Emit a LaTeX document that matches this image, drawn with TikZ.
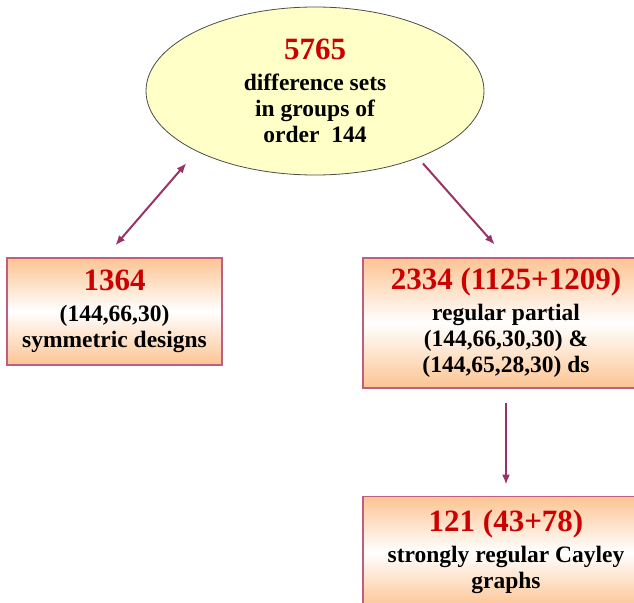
\documentclass[tikz,border=0pt]{standalone}
\usepackage{fontspec}
\setmainfont{Liberation Serif}
\usetikzlibrary{%
  shapes.geometric,%
  positioning,%
  arrows.meta%
}
\definecolor{numred}{RGB}{204,0,0}
\definecolor{linkcol}{RGB}{153,51,102}
\definecolor{boxedge}{RGB}{190,95,130}
\definecolor{peach}{RGB}{252,196,146}
\definecolor{lemon}{RGB}{255,255,200}
\newcommand{\bignum}[1]{{\fontsize{31}{34}\selectfont\color{numred}#1}}

\begin{document}
\begin{tikzpicture}[
      x=1pt, y=-1pt,
      every text node part/.style={align=center},
      textfont/.style={font=\bfseries\fontsize{23.5}{26}\selectfont},
      count/.style={
        ellipse,
        draw=black!70,
        line width=0.8pt,
        fill=lemon,
        inner sep=0pt,
        textfont
      },
      result/.style={
        rectangle,
        draw=boxedge,
        line width=1.2pt,
        top color=peach,
        bottom color=peach,
        middle color=white,
        inner sep=0pt,
        minimum width=#1,
        textfont
      },
      node distance=107pt,
      link/.style={
        ->,
        draw=linkcol,
        line width=2pt,
        >={Latex[length=10pt,width=8pt]}
      }
    ]
    \useasboundingbox (0,0) rectangle (634,602);

    \node[count, minimum width=338pt, minimum height=168pt]
      (DS) at (315,91)
      {\bignum{5765}\\[5pt]
      difference sets\\
      in groups of\\
      order~~144};

    \node[result=215pt, minimum height=107pt]
      (Sym) at (114.5,311.5)
      {\bignum{1364}\\[5pt]
      (144,66,30)\\
      symmetric designs};

    \node[result=286pt, minimum height=130pt]
      (RPDS) at (506,323)
      {\bignum{2334 (1125+1209)}\\[5pt]
      regular partial\\
      (144,66,30,30) \&\\
      (144,65,28,30) ds};

    \node[result=286pt, minimum height=112pt, below=of RPDS]
      (SRG)
      {\bignum{121 (43+78)}\\[5pt]
      strongly regular Cayley\\
      graphs};

    \draw[link, <->, shorten <=15.6pt, shorten >=15.9pt] (DS.207) -- (Sym.100);
    \draw[link, shorten <=7.3pt, shorten >=17pt] (DS.327) -- (RPDS.north);
    \draw[link, shorten <=14pt, shorten >=11pt] (RPDS.south) -- (SRG.north);
  \end{tikzpicture}
\end{document}
